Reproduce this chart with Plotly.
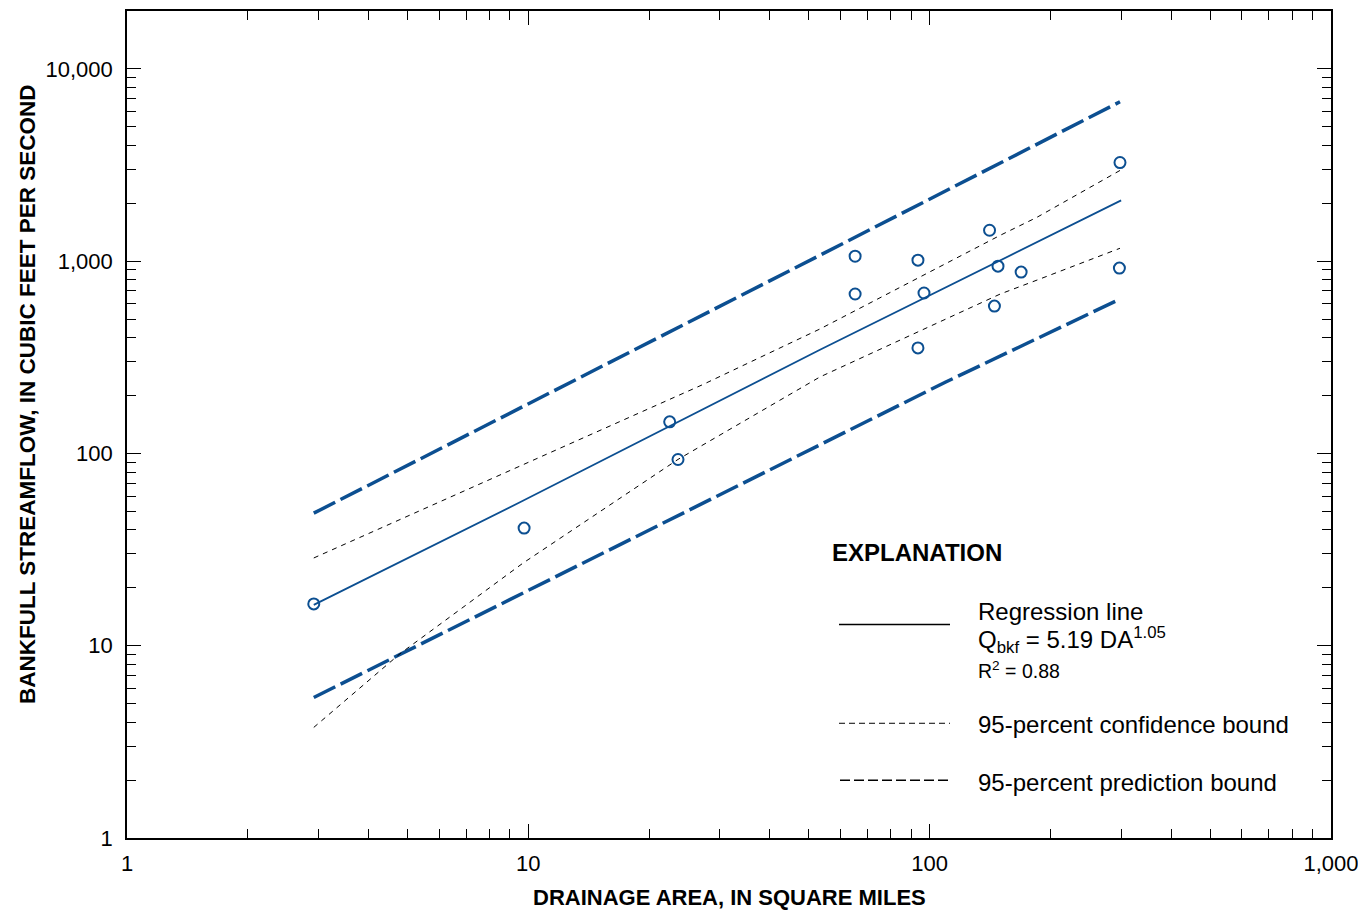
import plotly.graph_objects as go

# ---- data ----
drainage_area = [2.92, 9.76, 22.5, 23.6, 65.2, 65.2, 93.5, 93.5, 96.8, 141, 148, 145, 169, 298, 297]
bankfull_q = [16.5, 40.9, 146, 93, 1061, 675, 1012, 354, 683, 1448, 942, 584, 877, 3258, 920]

reg_da = [2.92, 9.53, 53.3, 188, 300]
reg_q = [16.3, 55.7, 346, 1285, 2070]

upper_pred_da = [2.92, 9.70, 53.3, 298]
upper_pred_q = [48.9, 175, 1074, 6745]
lower_pred_da = [2.92, 9.70, 110, 298]
lower_pred_q = [5.38, 18.8, 236, 635]

upper_conf_da = [2.92, 9.53, 27.2, 53.3, 150, 185, 298]
upper_conf_q = [28.6, 85.7, 228, 444, 1364, 1690, 2963]
lower_conf_da = [2.92, 4.79, 9.70, 23.6, 53.3, 150, 188, 298]
lower_conf_q = [3.76, 9.09, 26.9, 93.1, 250, 675, 807, 1167]

x_tickvals = [1, 10, 100, 1000]
x_ticktext = ["1", "10", "100", "1,000"]
y_tickvals = [1, 10, 100, 1000, 10000]
y_ticktext = ["1", "10", "100", "1,000", "10,000"]

BLUE = "#0c4f91"
FONT = "Liberation Sans, Arial, sans-serif"

fig = go.Figure()

fig.add_trace(go.Scatter(x=upper_pred_da, y=upper_pred_q, mode="lines",
                         line=dict(color=BLUE, width=3.5, dash="24px,6px"), showlegend=False))
fig.add_trace(go.Scatter(x=lower_pred_da, y=lower_pred_q, mode="lines",
                         line=dict(color=BLUE, width=3.5, dash="24px,6px"), showlegend=False))
fig.add_trace(go.Scatter(x=upper_conf_da, y=upper_conf_q, mode="lines",
                         line=dict(color="black", width=1, dash="5px,5px"), showlegend=False))
fig.add_trace(go.Scatter(x=lower_conf_da, y=lower_conf_q, mode="lines",
                         line=dict(color="black", width=1, dash="5px,5px"), showlegend=False))
fig.add_trace(go.Scatter(x=reg_da, y=reg_q, mode="lines",
                         line=dict(color=BLUE, width=1.8), showlegend=False))
fig.add_trace(go.Scatter(x=drainage_area, y=bankfull_q, mode="markers",
                         marker=dict(symbol="circle-open", size=11, color=BLUE,
                                     line=dict(color=BLUE, width=2)),
                         showlegend=False))

minor_x = [v * d for d in (1, 10, 100) for v in range(2, 10)]
minor_y = [v * d for d in (1, 10, 100, 1000) for v in range(2, 10)] + [20000]

axis_common = dict(type="log", showgrid=False, zeroline=False, showline=True,
                   linecolor="black", linewidth=1.6, mirror="allticks",
                   ticks="inside", ticklen=14, tickwidth=1, tickcolor="black",
                   tickfont=dict(family=FONT, size=22, color="black"))

fig.update_xaxes(range=[0, 3], tickmode="array", tickvals=x_tickvals, ticktext=x_ticktext,
                 minor=dict(ticks="inside", ticklen=9, tickwidth=1, tickcolor="black",
                            tickmode="array", tickvals=minor_x, showgrid=False),
                 ticklabelstandoff=5, ticklabeloverflow="allow", **axis_common)
fig.update_yaxes(range=[0, 4.30103], tickmode="array", tickvals=y_tickvals, ticktext=y_ticktext,
                 minor=dict(ticks="inside", ticklen=9, tickwidth=1, tickcolor="black",
                            tickmode="array", tickvals=minor_y, showgrid=False),
                 ticklabelstandoff=8, **axis_common)

# page places the figure 8px in from the top-left corner
OFF = 8
W, H = 1356, 903
L, T = 127 - OFF, 1
R = W - (1331 - OFF)
B = H - (838 - OFF)
PW, PH = W - L - R, H - T - B


def px(x):
    return (x - OFF - L) / PW


def py(y):
    return (H - B - (y - OFF)) / PH


annotations = [
    dict(text="<b>DRAINAGE AREA, IN SQUARE MILES</b>", x=px(729), y=py(898),
         font=dict(size=22, family=FONT, color="black")),
    dict(text="<b>BANKFULL STREAMFLOW, IN CUBIC FEET PER SECOND</b>", x=px(27), y=py(393),
         textangle=-90, font=dict(size=22.5, family=FONT, color="black")),
    dict(text="<b>EXPLANATION</b>", x=px(830), y=py(552), xanchor="left",
         font=dict(size=24, family=FONT, color="black")),
    dict(text="Regression line", x=px(976), y=py(611), xanchor="left",
         font=dict(size=24, family=FONT, color="black")),
    dict(text="Q<sub>bkf</sub> = 5.19 DA<sup>1.05</sup>", x=px(976), y=py(640), xanchor="left",
         font=dict(size=24, family=FONT, color="black")),
    dict(text="R<sup>2</sup> = 0.88", x=px(976), y=py(670), xanchor="left",
         font=dict(size=19.5, family=FONT, color="black")),
    dict(text="95-percent confidence bound", x=px(976), y=py(724), xanchor="left",
         font=dict(size=24, family=FONT, color="black")),
    dict(text="95-percent prediction bound", x=px(976), y=py(782), xanchor="left",
         font=dict(size=24, family=FONT, color="black")),
]
for a in annotations:
    a.update(xref="paper", yref="paper", showarrow=False,
             xanchor=a.get("xanchor", "center"), yanchor="middle")

shapes = [
    dict(type="line", x0=px(839), x1=px(950), y0=py(624), y1=py(624),
         line=dict(color="black", width=1.3)),
    dict(type="line", x0=px(839), x1=px(950), y0=py(723), y1=py(723),
         line=dict(color="black", width=1, dash="6px,4px")),
    dict(type="line", x0=px(840), x1=px(952), y0=py(780), y1=py(780),
         line=dict(color="black", width=1.5, dash="10px,4px")),
]
for s in shapes:
    s.update(xref="paper", yref="paper")

fig.update_layout(width=W, height=H, margin=dict(l=L, r=R, t=T, b=B),
                  paper_bgcolor="white", plot_bgcolor="white",
                  annotations=annotations, shapes=shapes,
                  font=dict(family=FONT, color="black"))

fig.write_html("out.html")
